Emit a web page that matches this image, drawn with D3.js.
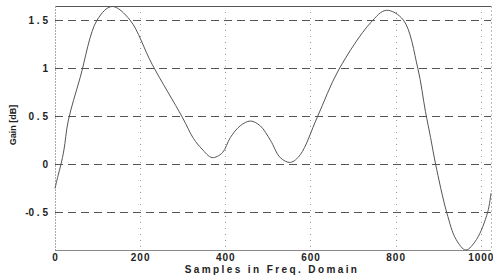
<!DOCTYPE html>
<html>
<head>
<meta charset="utf-8">
<script src="https://cdn.jsdelivr.net/npm/d3@7"></script>
<style>
  body { margin: 0; background: #fff; }
  text { font-family: "Liberation Sans", Arial, sans-serif; font-weight: bold; fill: #222; }
</style>
</head>
<body>
<div class="chart"></div>
<script>
// samples (sample index, gain in dB)
var samples = [0, 7, 14, 21, 31, 59, 99, 134, 176, 228, 299, 325, 345, 369, 393, 412, 435, 459, 482, 506, 529, 553, 576, 616, 666, 741, 778, 818, 852, 870, 882, 894, 920, 942, 965, 990, 1016, 1024];
var gains   = [-0.25, -0.12, 0.0, 0.15, 0.45, 0.9, 1.5, 1.64, 1.5, 1.04, 0.49, 0.27, 0.16, 0.07, 0.12, 0.28, 0.4, 0.45, 0.4, 0.25, 0.07, 0.02, 0.1, 0.49, 0.98, 1.47, 1.6, 1.5, 1.0, 0.55, 0.28, 0.0, -0.5, -0.78, -0.89, -0.78, -0.5, -0.3];
var xTicks = [0, 200, 400, 600, 800, 1000];
var yTicks = [-0.5, 0, 0.5, 1, 1.5];

function drawChart(){
  var w = 493;
  var h = 278;
  var padLeft = 55, padRight = 491, padTop = 6, padBottom = 250;

  var svg = d3.select(".chart")
              .append("svg")
              .attr("width", w)
              .attr("height", h);

  var x = d3.scaleLinear()
            .domain([0, 1024])
            .range([padLeft, padRight]);

  var y = d3.scaleLinear()
            .domain([-0.89, 1.645])
            .range([padBottom, padTop]);

  // horizontal dashed grid
  svg.append("g")
     .selectAll("line")
     .data(yTicks)
     .join("line")
       .attr("x1", padLeft)
       .attr("x2", padRight)
       .attr("y1", function(d){ return Math.round(y(d)) + 0.5; })
       .attr("y2", function(d){ return Math.round(y(d)) + 0.5; })
       .attr("stroke", "#555")
       .attr("stroke-width", 1.2)
       .attr("stroke-dasharray", "8,5");

  // vertical dotted grid
  svg.append("g")
     .selectAll("line")
     .data(xTicks.slice(1))
     .join("line")
       .attr("x1", function(d){ return Math.round(x(d)) + 0.5; })
       .attr("x2", function(d){ return Math.round(x(d)) + 0.5; })
       .attr("y1", padTop)
       .attr("y2", padBottom)
       .attr("stroke", "#999")
       .attr("stroke-width", 1)
       .attr("stroke-dasharray", "1,5");

  // frame
  svg.append("line")
     .attr("x1", padLeft).attr("x2", padRight)
     .attr("y1", padTop + 0.5).attr("y2", padTop + 0.5)
     .attr("stroke", "#555");
  svg.append("line")
     .attr("x1", padLeft).attr("x2", padRight)
     .attr("y1", padBottom + 0.5).attr("y2", padBottom + 0.5)
     .attr("stroke", "#888");
  svg.append("line")
     .attr("x1", padLeft + 0.5).attr("x2", padLeft + 0.5)
     .attr("y1", padTop).attr("y2", padBottom)
     .attr("stroke", "#aaa")
     .attr("stroke-dasharray", "2,1");
  svg.append("line")
     .attr("x1", padRight + 0.5).attr("x2", padRight + 0.5)
     .attr("y1", padTop).attr("y2", padBottom)
     .attr("stroke", "#bbb")
     .attr("stroke-dasharray", "2,2");

  // axes (labels only, the grid draws the lines)
  var xAxis = d3.axisBottom(x)
                .tickValues(xTicks)
                .tickSize(0)
                .tickPadding(4)
                .tickFormat(d3.format("d"));

  var yAxis = d3.axisLeft(y)
                .tickValues(yTicks)
                .tickSize(0)
                .tickPadding(7)
                .tickFormat(function(d){ return String(d).split("").join(" ").replace("- ", "-"); });

  svg.append("g")
     .attr("transform", "translate(0," + padBottom + ")")
     .style("font-size", "10px")
     .style("letter-spacing", "1px")
     .call(xAxis)
     .call(function(g){ g.select(".domain").remove(); });

  svg.append("g")
     .attr("transform", "translate(" + padLeft + ",0)")
     .style("font-size", "10px")
     .call(yAxis)
     .call(function(g){ g.select(".domain").remove(); });

  svg.selectAll(".tick text").attr("fill", "#222").style("font-weight", "bold");

  // curve
  var line = d3.line()
               .x(function(d, i){ return x(samples[i]); })
               .y(function(d){ return y(d); })
               .curve(d3.curveCatmullRom.alpha(0.5));

  svg.append("path")
     .datum(gains)
     .attr("fill", "none")
     .attr("stroke", "#555")
     .attr("stroke-width", 1)
     .attr("d", line);

  // axis titles
  svg.append("text")
     .attr("x", 272)
     .attr("y", 273)
     .attr("text-anchor", "middle")
     .style("font-size", "10px")
     .style("letter-spacing", "2.4px")
     .text("Samples in Freq. Domain");

  svg.append("text")
     .attr("transform", "translate(16,125) rotate(-90)")
     .attr("text-anchor", "middle")
     .style("font-size", "9px")
     .text("Gain [dB]");
}

window.onload = drawChart;
</script>
</body>
</html>
